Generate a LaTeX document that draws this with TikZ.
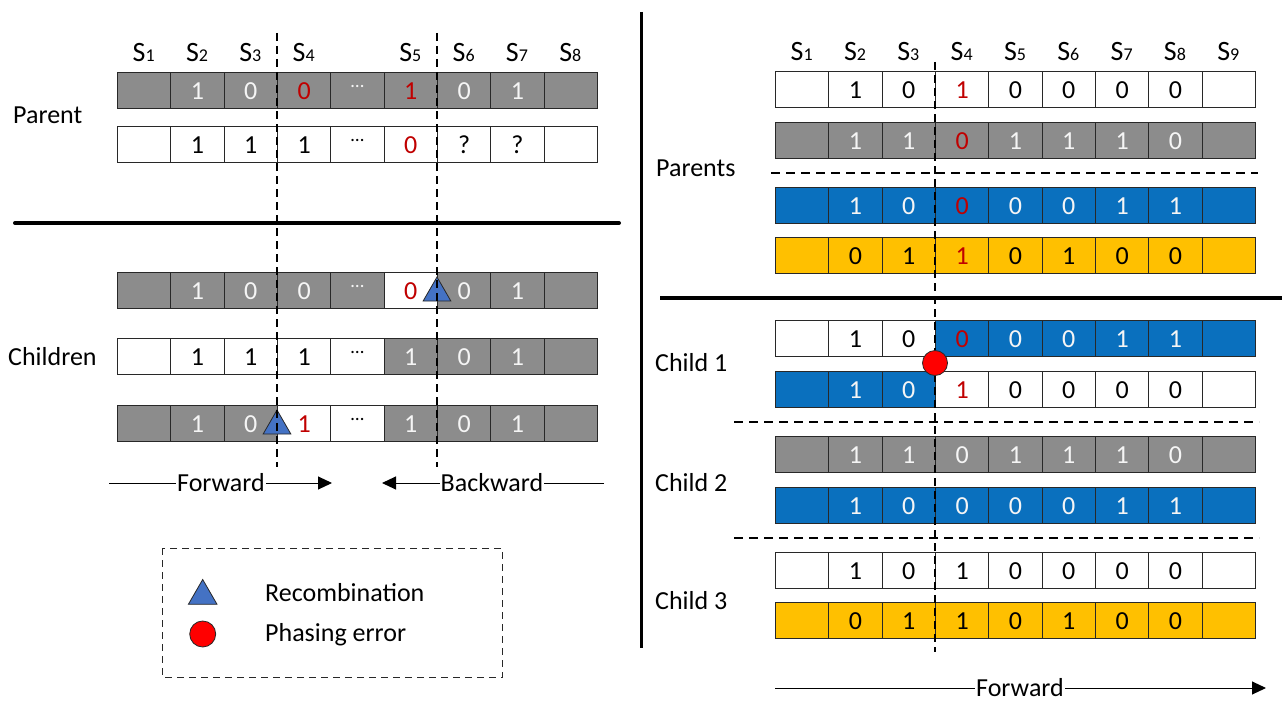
\documentclass[tikz,border=0pt]{standalone}
\usepackage{fontspec}
\setmainfont{Carlito}
\usetikzlibrary{arrows.meta,shapes.geometric}

\definecolor{gC}{RGB}{140,140,140}
\definecolor{wC}{RGB}{255,255,255}
\definecolor{bC}{RGB}{10,112,190}
\definecolor{yC}{RGB}{255,192,0}
\definecolor{tW}{RGB}{245,245,245}
\definecolor{tK}{RGB}{0,0,0}
\definecolor{tR}{RGB}{192,0,0}
\definecolor{edge}{RGB}{40,40,40}
\definecolor{markblue}{RGB}{68,114,196}

% site label: S with a small index digit
\newcommand\sitelbl[1]{S{\fontsize{18}{18}\selectfont #1}}
% raised ellipsis used in the sequence cells
\newcommand\ellip{\raisebox{12pt}{\fontsize{19}{19}\selectfont …}}
% a row of nine cells: name, left x, top y, list of fill/text colour/content
\newcommand\cellrow[4]{%
  \foreach \fc/\tc/\val [count=\i] in {#4}{%
    \node[cell, fill=\fc, text=\tc] (#1-\i) at ({#2+(\i-1)*53.33}, #3) {\val};
  }%
}

\begin{document}
\begin{tikzpicture}[x=1pt,y=-1pt,
  every node/.style={font=\fontsize{26}{30}\selectfont},
  cell/.style={draw=edge, line width=1pt, minimum width=53.33pt, minimum height=36pt,
    inner sep=0pt, text height=18pt, text depth=0pt, anchor=north west},
  lbl/.style={font=\fontsize{26}{30}\selectfont, anchor=base west, inner sep=0pt},
  sitetxt/.style={font=\fontsize{28}{32}\selectfont, anchor=base, inner sep=0pt},
  cut/.style={line width=1.1pt, dash pattern=on 8pt off 5pt},
  sep/.style={line width=1.1pt, dash pattern=on 9pt off 6pt},
  heavy/.style={line width=4pt, line cap=round},
  recomb/.style={regular polygon, regular polygon sides=3, fill=markblue, draw=edge,
    line width=0.8pt, minimum size=32pt, inner sep=0pt},
  phaseerr/.style={circle, fill=red, draw=edge, line width=0.8pt, minimum size=25pt, inner sep=0pt},
  dirarrow/.style={line width=1pt, -{Triangle[length=14pt,width=13pt]}},
  dirtxt/.style={font=\fontsize{26}{30}\selectfont, inner sep=1pt}
]
\fill[white] (0,0) rectangle (1282,701);
\useasboundingbox (0,0) rectangle (1282,701);

% ---------------- left panel: parent haplotypes ----------------
\foreach \s [count=\k] in {1,2,3,4,{},5,6,7,8}{
  \ifx\s\empty\else
  \node[sitetxt] (ls\k) at ({117+(\k-0.5)*53.33}, 62) {\sitelbl{\s}};
  \fi
}
\cellrow{PA}{117}{72.3}{gC/tW/{}, gC/tW/1, gC/tW/0, gC/tR/0, gC/tW/\ellip, gC/tR/1, gC/tW/0, gC/tW/1, gC/tW/{}}
\cellrow{PB}{117}{125.5}{wC/tK/{}, wC/tK/1, wC/tK/1, wC/tK/1, wC/tK/\ellip, wC/tR/0, wC/tK/?, wC/tK/?, wC/tK/{}}
\node[lbl] (parent) at (13,123) {Parent};

\draw[heavy] (15,223) coordinate (hl1) -- (619,223) coordinate (hl2);

% ---------------- left panel: children ----------------
\cellrow{CA}{117}{272}{gC/tW/{}, gC/tW/1, gC/tW/0, gC/tW/0, gC/tW/\ellip, wC/tR/0, gC/tW/0, gC/tW/1, gC/tW/{}}
\cellrow{CB}{117}{338}{wC/tK/{}, wC/tK/1, wC/tK/1, wC/tK/1, wC/tK/\ellip, gC/tW/1, gC/tW/0, gC/tW/1, gC/tW/{}}
\cellrow{CC}{117}{405}{gC/tW/{}, gC/tW/1, gC/tW/0, wC/tR/1, wC/tK/\ellip, gC/tW/1, gC/tW/0, gC/tW/1, gC/tW/{}}
\node[lbl] (children) at (8,365) {Children};

\node[recomb] (recA) at (437,293) {};
\node[recomb] (recC) at (277,426) {};

% crossover positions
\coordinate (cutL1a) at (277,33);
\coordinate (cutL1b) at (277,467);
\coordinate (cutL2a) at (437,33);
\coordinate (cutL2b) at (437,467);
\draw[cut] (cutL1a) -- (cutL1b);
\draw[cut] (cutL2a) -- (cutL2b);

% scan directions
\node[dirtxt] (fwdL) at (221,483) {Forward};
\node[dirtxt] (bwdL) at (492,483) {Backward};
\coordinate (fwdL0) at (109,483);
\coordinate (fwdL1) at (332,483);
\coordinate (bwdL0) at (604,483);
\coordinate (bwdL1) at (382,483);
\draw[line width=1pt] (fwdL0) -- (fwdL.west);
\draw[dirarrow] (fwdL.east) -- (fwdL1);
\draw[line width=1pt] (bwdL0) -- (bwdL.east);
\draw[dirarrow] (bwdL.west) -- (bwdL1);

% legend
\draw[line width=1pt, draw=edge, dash pattern=on 7pt off 5pt] (162,548) rectangle (502.5,677);
\node[recomb, minimum size=33pt] (legtri) at (202.7,596) {};
\node[phaseerr, minimum size=26pt] (legcirc) at (202.7,634) {};
\node[lbl] (legrec) at (265,601.5) {Recombination};
\node[lbl] (legerr) at (265,641) {Phasing error};

% ---------------- divider ----------------
\draw[line width=3pt] (641,12) coordinate (vd1) -- (641,648) coordinate (vd2);

% ---------------- right panel: parents ----------------
\foreach \s [count=\k] in {1,...,9}{
  \node[sitetxt] (rs\k) at ({775+(\k-0.5)*53.33}, 61) {\sitelbl{\s}};
}
\cellrow{RA}{775}{71.3}{wC/tK/{}, wC/tK/1, wC/tK/0, wC/tR/1, wC/tK/0, wC/tK/0, wC/tK/0, wC/tK/0, wC/tK/{}}
\cellrow{RB}{775}{122.3}{gC/tW/{}, gC/tW/1, gC/tW/1, gC/tR/0, gC/tW/1, gC/tW/1, gC/tW/1, gC/tW/0, gC/tW/{}}
\cellrow{RC}{775}{186.7}{bC/tW/{}, bC/tW/1, bC/tW/0, bC/tR/0, bC/tW/0, bC/tW/0, bC/tW/1, bC/tW/1, bC/tW/{}}
\cellrow{RD}{775}{237.3}{yC/tK/{}, yC/tK/0, yC/tK/1, yC/tR/1, yC/tK/0, yC/tK/1, yC/tK/0, yC/tK/0, yC/tK/{}}
\node[lbl] (parents) at (656,176) {Parents};
\draw[sep] (771,173) coordinate (ps1) -- (1258,173) coordinate (ps2);

\draw[heavy, line cap=butt] (660,298) coordinate (hr1) -- (1282,298) coordinate (hr2);

% ---------------- right panel: children ----------------
\cellrow{KA}{775}{320.3}{wC/tK/{}, wC/tK/1, wC/tK/0, bC/tR/0, bC/tW/0, bC/tW/0, bC/tW/1, bC/tW/1, bC/tW/{}}
\cellrow{KB}{775}{370.7}{bC/tW/{}, bC/tW/1, bC/tW/0, wC/tR/1, wC/tK/0, wC/tK/0, wC/tK/0, wC/tK/0, wC/tK/{}}
\node[lbl] (child1) at (655,371) {Child 1};
\draw[sep] (734,422) coordinate (cs1) -- (1259,422) coordinate (cs2);

\cellrow{KC}{775}{435.7}{gC/tW/{}, gC/tW/1, gC/tW/1, gC/tW/0, gC/tW/1, gC/tW/1, gC/tW/1, gC/tW/0, gC/tW/{}}
\cellrow{KD}{775}{486.7}{bC/tW/{}, bC/tW/1, bC/tW/0, bC/tW/0, bC/tW/0, bC/tW/0, bC/tW/1, bC/tW/1, bC/tW/{}}
\node[lbl] (child2) at (655,491) {Child 2};
\draw[sep] (734,538) coordinate (cs3) -- (1259,538) coordinate (cs4);

\cellrow{KE}{775}{551.7}{wC/tK/{}, wC/tK/1, wC/tK/0, wC/tK/1, wC/tK/0, wC/tK/0, wC/tK/0, wC/tK/0, wC/tK/{}}
\cellrow{KF}{775}{602.3}{yC/tK/{}, yC/tK/0, yC/tK/1, yC/tK/1, yC/tK/0, yC/tK/1, yC/tK/0, yC/tK/0, yC/tK/{}}
\node[lbl] (child3) at (655,609) {Child 3};

\coordinate (cutRa) at (935,62);
\coordinate (cutRb) at (935,652);
\draw[cut] (cutRa) -- (cutRb);

\node[phaseerr] (perr) at (935,363) {};

\node[dirtxt] (fwdR) at (1020,688) {Forward};
\coordinate (fwdR0) at (775,688);
\coordinate (fwdR1) at (1266,688);
\draw[line width=1pt] (fwdR0) -- (fwdR.west);
\draw[dirarrow] (fwdR.east) -- (fwdR1);
\end{tikzpicture}
\end{document}
